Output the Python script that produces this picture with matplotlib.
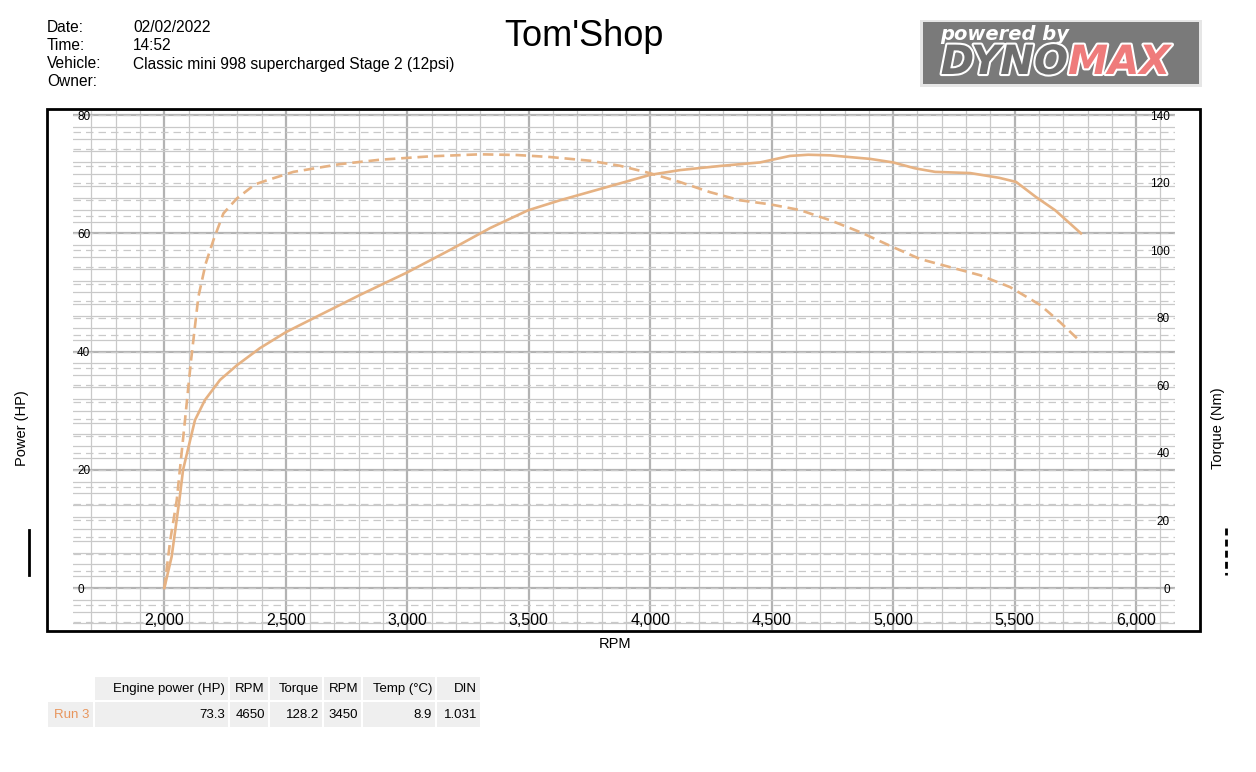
import matplotlib
matplotlib.use('Agg')
import matplotlib.pyplot as plt
import matplotlib.patheffects as pe
from matplotlib.patches import Rectangle
from matplotlib.ticker import FuncFormatter
import numpy as np

plt.rcParams['font.family'] = ['Liberation Sans', 'DejaVu Sans']

# Run 3 - power curve (HP)
power_rpm = [2000, 2030, 2062, 2077, 2126, 2167, 2229, 2299, 2394, 2501, 2641, 2806,
             3000, 3176, 3341, 3497, 3629, 3793, 4000, 4122, 4287, 4452, 4575, 4650,
             4740, 4905, 5000, 5090, 5173, 5317, 5436, 5506, 5586, 5667, 5773]
power_hp = [0, 5.3, 14.9, 20.0, 28.4, 31.8, 35.2, 37.7, 40.6, 43.3, 46.2, 49.6,
            53.4, 57.2, 60.9, 63.9, 65.6, 67.5, 69.9, 70.7, 71.4, 72.0, 73.1, 73.3,
            73.2, 72.6, 72.0, 71.0, 70.4, 70.2, 69.4, 68.7, 66.2, 63.9, 60.0]

# Run 3 - torque curve (Nm)
torque_rpm = [2000, 2024, 2051, 2085, 2110, 2140, 2170, 2202, 2243, 2298, 2373, 2422,
              2531, 2723, 2888, 3094, 3299, 3450, 3588, 3752, 3876, 4000, 4122, 4246,
              4369, 4493, 4616, 4740, 4863, 5000, 5111, 5234, 5358, 5481, 5605, 5687, 5773]
torque_nm = [0, 14, 26, 49.7, 67.5, 86.2, 96, 103, 110.9, 115.3, 119.5, 120.7,
             123.2, 125.5, 126.8, 127.8, 128.4, 128.2, 127.6, 126.5, 125.0, 122.8, 120.2, 117.2,
             114.8, 113.6, 111.9, 108.9, 105.4, 100.9, 97.4, 95.0, 92.6, 89.1, 83.8, 78.7, 72.8]

rpm_ticks = [2000, 2500, 3000, 3500, 4000, 4500, 5000, 5500, 6000]
power_ticks = [0, 20, 40, 60, 80]
torque_ticks = [0, 20, 40, 60, 80, 100, 120, 140]

header_labels = ['Date:', 'Time:', 'Vehicle:', 'Owner:']
header_values = ['02/02/2022', '14:52', 'Classic mini 998 supercharged Stage 2 (12psi)', '']

table_headers = ['Engine power (HP)', 'RPM', 'Torque', 'RPM', 'Temp (°C)', 'DIN']
table_run = 'Run 3'
table_values = ['73.3', '4650', '128.2', '3450', '8.9', '1.031']

W, H = 1256, 772
curve_col = '#e6b283'
grid_col = '#c9c9c9'
major_col = '#b3b3b3'
ratio = 1.75  # Nm per HP on the twin scale

fig = plt.figure(figsize=(W / 100, H / 100), dpi=100)

ax = fig.add_axes([73 / W, 1 - 630 / H, (1175 - 73) / W, (630 - 111) / H])
ax.set_xlim(1624, 6160)
ax.set_ylim(-7.1, 80.7)
ax2 = ax.twinx()
ax2.set_ylim(-7.1 * ratio, 80.7 * ratio)

for a in (ax, ax2):
    for s in a.spines.values():
        s.set_visible(False)

# grid: vertical every 100 rpm, power solid every 2 HP, torque dashed every 5 Nm
for v in np.arange(1700, 6200, 100):
    major = v % 500 == 0
    ax.axvline(v, color=major_col if major else grid_col, lw=1.6 if major else 0.9, zorder=0)
for h in np.arange(-6, 81, 2):
    major = h % 20 == 0
    ax.axhline(h, color=major_col if major else grid_col, lw=1.6 if major else 0.9, zorder=0)
for t in np.arange(-10, 141, 5):
    ax.axhline(t / ratio, color=grid_col, lw=0.9, ls=(0, (6, 4)), zorder=0)

ax.plot(power_rpm, power_hp, color=curve_col, lw=1.9, zorder=3)
ax2.plot(torque_rpm, torque_nm, color=curve_col, lw=1.9, ls=(0, (4, 2.2)), zorder=3)

ax.set_xticks(rpm_ticks)
ax.xaxis.set_major_formatter(FuncFormatter(lambda x, p: f'{int(x):,}'))
ax.tick_params(axis='x', length=0, pad=-12.2, labelsize=11.5)
ax.set_yticks(power_ticks)
ax.tick_params(axis='y', length=0, pad=-2.9, labelsize=8.5)
for tk in ax.yaxis.get_major_ticks():
    tk.label1.set_horizontalalignment('left')
ax2.set_yticks(torque_ticks)
ax2.tick_params(axis='y', length=0, pad=-3.6, labelsize=8.5)
for tk in ax2.yaxis.get_major_ticks():
    tk.label2.set_horizontalalignment('right')

# overlay in pixel coordinates for the sheet decoration
ov = fig.add_axes([0, 0, 1, 1])
ov.set_xlim(0, W)
ov.set_ylim(H, 0)
ov.axis('off')
ov.patch.set_alpha(0)

ov.add_patch(Rectangle((47, 109), 1153, 522, fill=False, ec='black', lw=2))
ov.plot([29, 29], [530, 575], color='black', lw=2)
ov.plot([1226, 1226], [528, 575], color='black', lw=2, ls=(0, (2.5, 1.5)))

ov.text(22, 428, 'Power (HP)', rotation=90, ha='center', va='center', fontsize=10.5)
ov.text(1218, 428, 'Torque (Nm)', rotation=90, ha='center', va='center', fontsize=10.5)
ov.text(615, 644, 'RPM', ha='center', va='center', fontsize=10.5)

for i, (lab, val) in enumerate(zip(header_labels, header_values)):
    y = 28 + i * 18
    ov.text(47, y, lab, ha='left', va='center', fontsize=11.2)
    ov.text(133, y, val, ha='left', va='center', fontsize=11.2)

ov.text(584, 36, "Tom'Shop", ha='center', va='center', fontsize=26)

# logo
ov.add_patch(Rectangle((920, 20), 282, 67, fc='#e6e6e6', ec='none'))
ov.add_patch(Rectangle((923, 22), 276, 62, fc='#7a7a7a', ec='none'))
ov.text(1005, 35, 'powered by', ha='center', va='center', fontsize=14, color='white',
        fontweight='bold', style='italic', family='DejaVu Sans')
ov.text(1068, 63, 'DYNO', ha='right', va='center', fontsize=29, color='#6e6e6e',
        fontweight='bold', style='italic', family='DejaVu Sans',
        path_effects=[pe.withStroke(linewidth=3, foreground='white')])
ov.text(1068, 63, 'MAX', ha='left', va='center', fontsize=29, color='#ef7b7b',
        fontweight='bold', style='italic', family='DejaVu Sans',
        path_effects=[pe.withStroke(linewidth=3, foreground='white')])

# results table
cols = [(95, 228), (230, 268), (270, 322), (324, 361), (363, 435), (437, 480)]
for (x0, x1), hdr, val in zip(cols, table_headers, table_values):
    ov.add_patch(Rectangle((x0, 677), x1 - x0, 23, fc='#efefef', ec='none'))
    ov.add_patch(Rectangle((x0, 702), x1 - x0, 25, fc='#efefef', ec='none'))
    ov.text(x1 - 3, 689, hdr, ha='right', va='center', fontsize=9.5)
    ov.text(x1 - 3, 714.5, val, ha='right', va='center', fontsize=9.5)
ov.add_patch(Rectangle((48, 702), 45, 25, fc='#efefef', ec='none'))
ov.text(89, 714.5, table_run, ha='right', va='center', fontsize=9.5, color='#e8955c')

fig.savefig('out.png', dpi=100)
